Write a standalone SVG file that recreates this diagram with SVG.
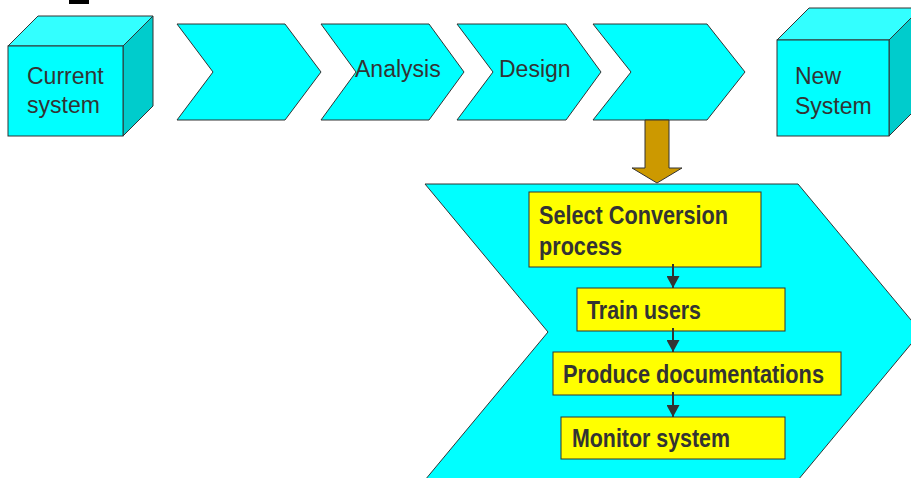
<svg xmlns="http://www.w3.org/2000/svg" width="911" height="478" viewBox="0 0 911 478">
<style>
.sh{fill:#00FFFF;stroke:#333;stroke-width:1}
.top{fill:#33FFFF;stroke:#333;stroke-width:1}
.side{fill:#00CCCC;stroke:#333;stroke-width:1}
.t{font-family:"Liberation Sans",Arial,sans-serif;font-size:23px;fill:#333}
.b{font-family:"Liberation Sans",Arial,sans-serif;font-size:25px;font-weight:bold;fill:#333}
.box{fill:#FFFF00;stroke:#333;stroke-width:1}
.con{stroke:#333;stroke-width:2;fill:none}
</style>
<defs>
<marker id="ah" markerWidth="12" markerHeight="13" refX="12" refY="6.5" orient="auto" markerUnits="userSpaceOnUse" viewBox="0 0 12 13">
<path d="M0,0 L12,6.5 L0,13 Z" fill="#333"/>
</marker>
</defs>
<rect x="69" y="0" width="20" height="4" fill="#000"/>
<g id="current-system">
<polygon class="top" points="8,46 38,16 153,16 123,46"/>
<polygon class="side" points="123,46 153,16 153,106 123,136"/>
<rect class="sh" x="8" y="46" width="115" height="90"/>
<text class="t" x="27" y="84">Current</text>
<text class="t" x="27" y="113">system</text>
</g>
<g id="step1"><polygon class="sh" points="177,24 285,24 321,72 285,120 177,120 213,72"/></g>
<g id="analysis"><polygon class="sh" points="321,24 429,24 464,72 429,120 321,120 356,72"/>
<text class="t" x="355" y="77">Analysis</text></g>
<g id="design"><polygon class="sh" points="457,24 566,24 601,72 566,120 457,120 493,72"/>
<text class="t" x="499" y="77">Design</text></g>
<g id="step4"><polygon class="sh" points="593,24 707,24 745,72 707,120 593,120 631,72"/></g>
<g id="new-system">
<polygon class="top" points="777,40 809,8 921,8 889,40"/>
<polygon class="side" points="889,40 921,8 921,104 889,136"/>
<rect class="sh" x="777" y="40" width="112" height="96"/>
<text class="t" x="795" y="84">New</text>
<text class="t" x="795" y="114">System</text>
</g>
<g id="expand-arrow"><polygon points="645,120 669,120 669,168 682,168 657,183 632,168 645,168" fill="#CC9900" stroke="#333" stroke-width="1"/></g>
<g id="big-chevron"><polygon class="sh" points="425,184 798,184 921,332 798,480 425,480 548,332"/></g>
<g id="select">
<rect class="box" x="529" y="192" width="232" height="75"/>
<text class="b" x="539" y="224" textLength="189" lengthAdjust="spacingAndGlyphs">Select Conversion</text>
<text class="b" x="539" y="255" textLength="83" lengthAdjust="spacingAndGlyphs">process</text>
</g>
<g id="train">
<rect class="box" x="577" y="288" width="208" height="43"/>
<text class="b" x="587" y="319" textLength="114" lengthAdjust="spacingAndGlyphs">Train users</text>
</g>
<g id="produce">
<rect class="box" x="553" y="352" width="288" height="43"/>
<text class="b" x="563" y="383" textLength="261" lengthAdjust="spacingAndGlyphs">Produce documentations</text>
</g>
<g id="monitor">
<rect class="box" x="561" y="417" width="224" height="42"/>
<text class="b" x="572" y="447" textLength="158" lengthAdjust="spacingAndGlyphs">Monitor system</text>
</g>
<g id="connectors">
<line class="con" x1="673" y1="264" x2="673" y2="288" marker-end="url(#ah)"/>
<line class="con" x1="673" y1="328" x2="673" y2="352" marker-end="url(#ah)"/>
<line class="con" x1="673" y1="392" x2="673" y2="417" marker-end="url(#ah)"/>
</g>
</svg>
